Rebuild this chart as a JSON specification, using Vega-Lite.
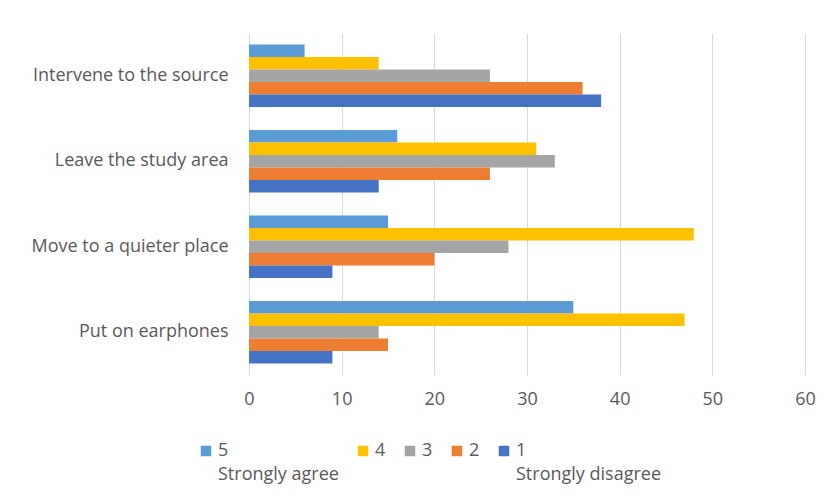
{
  "$schema": "https://vega.github.io/schema/vega-lite/v6.json",
  "width": 556,
  "height": 342,
  "autosize": "none",
  "padding": {"left": 249, "top": 33, "right": 24, "bottom": 126},
  "background": "white",
  "data": {
    "values": [
      {"q": "Intervene to the source", "s": "5", "v": 6},
      {"q": "Intervene to the source", "s": "4", "v": 14},
      {"q": "Intervene to the source", "s": "3", "v": 26},
      {"q": "Intervene to the source", "s": "2", "v": 36},
      {"q": "Intervene to the source", "s": "1", "v": 38},
      {"q": "Leave the study area", "s": "5", "v": 16},
      {"q": "Leave the study area", "s": "4", "v": 31},
      {"q": "Leave the study area", "s": "3", "v": 33},
      {"q": "Leave the study area", "s": "2", "v": 26},
      {"q": "Leave the study area", "s": "1", "v": 14},
      {"q": "Move to a quieter place", "s": "5", "v": 15},
      {"q": "Move to a quieter place", "s": "4", "v": 48},
      {"q": "Move to a quieter place", "s": "3", "v": 28},
      {"q": "Move to a quieter place", "s": "2", "v": 20},
      {"q": "Move to a quieter place", "s": "1", "v": 9},
      {"q": "Put on earphones", "s": "5", "v": 35},
      {"q": "Put on earphones", "s": "4", "v": 47},
      {"q": "Put on earphones", "s": "3", "v": 14},
      {"q": "Put on earphones", "s": "2", "v": 15},
      {"q": "Put on earphones", "s": "1", "v": 9}
    ]
  },
  "mark": {"type": "bar"},
  "encoding": {
    "y": {
      "field": "q", "type": "nominal",
      "sort": ["Intervene to the source", "Leave the study area", "Move to a quieter place", "Put on earphones"],
      "scale": {"paddingInner": 0.27, "paddingOuter": 0.135},
      "axis": {"title": null, "domain": false, "ticks": false, "labelPadding": 21, "labelFontSize": 18, "labelFont": "Open Sans", "labelColor": "#595959", "labelLimit": 300}
    },
    "yOffset": {
      "field": "s", "type": "nominal",
      "sort": ["5", "4", "3", "2", "1"],
      "scale": {"paddingInner": 0, "paddingOuter": 0}
    },
    "x": {
      "field": "v", "type": "quantitative",
      "scale": {"domain": [0, 60], "nice": false},
      "axis": {"title": null, "domain": false, "ticks": false, "values": [0, 10, 20, 30, 40, 50, 60], "grid": true, "gridColor": "#d9d9d9", "gridWidth": 1, "labelFlush": false, "labelOverlap": false, "labelPadding": 15, "labelFontSize": 18, "labelFont": "Open Sans", "labelColor": "#595959"}
    },
    "color": {
      "field": "s", "type": "nominal",
      "sort": ["5", "4", "3", "2", "1"],
      "scale": {"domain": ["5", "4", "3", "2", "1"], "range": ["#5b9bd5", "#ffc000", "#a5a5a5", "#ed7d31", "#4472c4"]},
      "legend": {
        "title": null,
        "orient": "none",
        "direction": "horizontal",
        "legendX": -52,
        "legendY": 409,
        "padding": 0,
        "symbolType": "square",
        "symbolSize": 110,
        "symbolStrokeWidth": 0,
        "labelFontSize": 18,
        "labelFont": "Open Sans",
        "labelColor": "#595959",
        "labelOffset": 3,
        "columnPadding": 15,
        "labelBaseline": "middle",
        "labelExpr": "datum.label == '5' ? ['5', 'Strongly agree'] : datum.label == '1' ? ['1', 'Strongly disagree'] : [datum.label, '']"
      }
    }
  },
  "config": {
    "view": {"stroke": null},
    "style": {"guide-label": {"lineHeight": 24}}
  }
}
